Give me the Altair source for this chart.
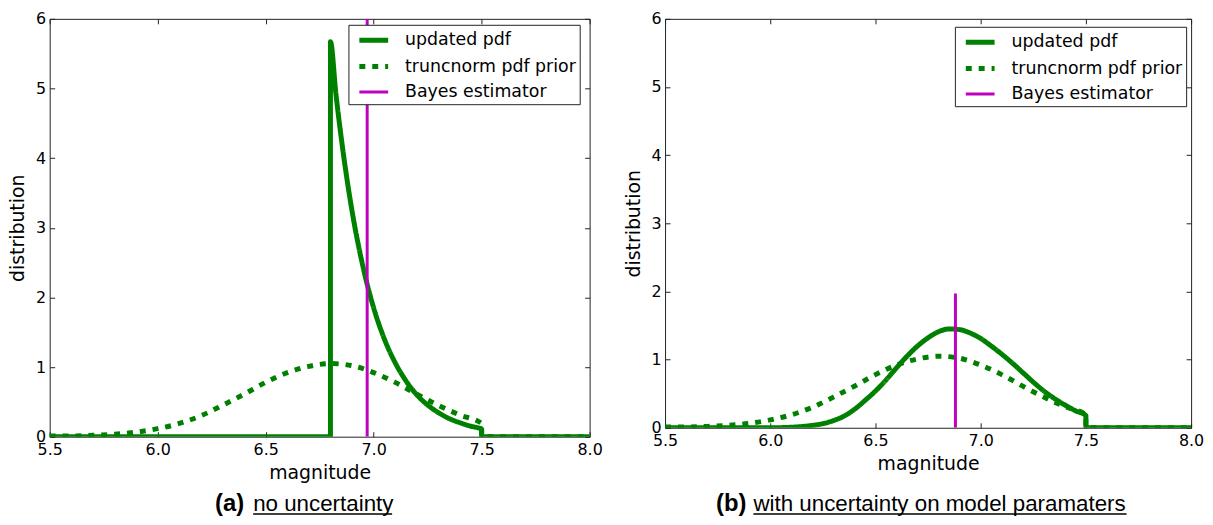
import altair as alt
import pandas as pd

SERIES = ["updated pdf", "truncnorm pdf prior", "Bayes estimator"]
COLORS = ["#008000", "#008000", "#bf00bf"]
DASHES = [[1, 0], [6, 7], [1, 0]]
WIDTHS = [5, 5, 3]

X_TICKS = [5.5, 6.0, 6.5, 7.0, 7.5, 8.0]
Y_TICKS = [0, 1, 2, 3, 4, 5, 6]

# truncated-normal prior (same in both panels)
PRIOR_X = [5.5, 5.6, 5.7, 5.8, 5.9, 6.0, 6.1, 6.2, 6.3, 6.4, 6.5, 6.6, 6.7,
           6.8, 6.9, 7.0, 7.1, 7.2, 7.3, 7.4, 7.5, 7.5, 8.0]
PRIOR_Y = [0.01, 0.01, 0.02, 0.035, 0.065, 0.115, 0.19, 0.30, 0.45, 0.61, 0.78,
           0.92, 1.01, 1.05, 1.02, 0.92, 0.78, 0.61, 0.45, 0.31, 0.19, 0.0, 0.0]

# (a) updated pdf, no uncertainty
A_SOLID_X = [5.5, 6.8, 6.8, 6.825, 6.85, 6.875, 6.9, 6.95, 7.0, 7.05, 7.1, 7.15,
             7.2, 7.25, 7.3, 7.35, 7.4, 7.45, 7.5, 7.5, 8.0]
A_SOLID_Y = [0.0, 0.0, 5.67, 4.93, 4.29, 3.73, 3.24, 2.45, 1.85, 1.40, 1.06, 0.80,
             0.60, 0.455, 0.345, 0.26, 0.20, 0.15, 0.11, 0.0, 0.0]
A_BAYES = 6.97
A_BAYES_TOP = 6.0

# (b) updated pdf, with uncertainty on model parameters
B_SOLID_X = [5.5, 6.0, 6.1, 6.15, 6.2, 6.25, 6.3, 6.35, 6.4, 6.45, 6.5, 6.55, 6.6,
             6.65, 6.7, 6.75, 6.8, 6.85, 6.9, 6.95, 7.0, 7.05, 7.1, 7.15, 7.2,
             7.25, 7.3, 7.35, 7.4, 7.45, 7.5, 7.5, 8.0]
B_SOLID_Y = [0.0, 0.0, 0.008, 0.018, 0.035, 0.06, 0.105, 0.17, 0.27, 0.40, 0.54,
             0.70, 0.88, 1.05, 1.20, 1.32, 1.41, 1.45, 1.44, 1.39, 1.31, 1.20,
             1.08, 0.95, 0.81, 0.67, 0.54, 0.43, 0.335, 0.25, 0.18, 0.0, 0.0]
B_BAYES = 6.88
B_BAYES_TOP = 1.97


def line_df(xs, ys, name):
    return pd.DataFrame({"x": xs, "y": ys, "series": name, "i": list(range(len(xs)))})


def panel(solid_x, solid_y, bayes_x, bayes_top, w, h, legend_x, legend_y,
          bold_txt, body_txt, bold_right, body_left, body_w, cap_y):
    xs = alt.Scale(domain=[5.5, 8.0], nice=False, zero=False)
    ys = alt.Scale(domain=[0, 6], nice=False)
    leg = alt.Legend(orient="none", legendX=legend_x, legendY=legend_y, title=None)
    common = dict(
        color=alt.Color("series:N", scale=alt.Scale(domain=SERIES, range=COLORS), legend=leg),
        strokeDash=alt.StrokeDash("series:N", scale=alt.Scale(domain=SERIES, range=DASHES), legend=leg),
        strokeWidth=alt.StrokeWidth("series:N", scale=alt.Scale(type="ordinal", domain=SERIES, range=WIDTHS), legend=leg),
        order=alt.Order("i:Q"),
    )
    solid = alt.Chart(line_df(solid_x, solid_y, SERIES[0])).mark_line(
        clip=True, interpolate="monotone", strokeJoin="round").encode(
        x=alt.X("x:Q", scale=xs, axis=alt.Axis(
            orient="bottom", values=X_TICKS, format=".1f", title="magnitude",
            tickSize=5, offset=-5, domain=False, labelPadding=5, titlePadding=6,
            labelFlush=False, labelOverlap=False, grid=False)),
        y=alt.Y("y:Q", scale=ys, axis=alt.Axis(
            orient="left", values=Y_TICKS, format="d", title="distribution",
            tickSize=5, offset=-5, domain=False, labelPadding=4, titlePadding=8,
            labelOverlap=False, grid=False)),
        **common)
    prior = alt.Chart(line_df(PRIOR_X, PRIOR_Y, SERIES[1])).mark_line(
        clip=True, interpolate="monotone", strokeCap="butt").encode(
        x=alt.X("x:Q", scale=xs, axis=None),
        y=alt.Y("y:Q", scale=ys, axis=None),
        **common)
    bayes = alt.Chart(line_df([bayes_x, bayes_x], [0, bayes_top], SERIES[2])).mark_line(
        clip=True).encode(
        x=alt.X("x:Q", scale=xs, axis=None),
        y=alt.Y("y:Q", scale=ys, axis=None),
        **common)
    frame = alt.Chart(line_df(PRIOR_X, PRIOR_Y, "frame")).mark_line(opacity=0).encode(
        x=alt.X("x:Q", scale=xs, axis=alt.Axis(
            orient="top", values=X_TICKS, labels=False, title=None, tickSize=5,
            offset=-5, domain=False, grid=False)),
        y=alt.Y("y:Q", scale=ys, axis=alt.Axis(
            orient="right", values=Y_TICKS, labels=False, title=None, tickSize=5,
            offset=-5, domain=False, grid=False)),
    )
    one = pd.DataFrame({"k": [0]})
    bold = alt.Chart(one).mark_text(
        text=bold_txt, align="right", baseline="alphabetic", font="Liberation Sans",
        fontSize=24, fontWeight="bold", color="black").encode(
        x=alt.value(bold_right), y=alt.value(cap_y))
    body = alt.Chart(one).mark_text(
        text=body_txt, align="left", baseline="alphabetic", font="Liberation Sans",
        fontSize=22.5, color="black").encode(
        x=alt.value(body_left), y=alt.value(cap_y))
    uline = alt.Chart(one).mark_rule(color="black", strokeWidth=1.5).encode(
        x=alt.value(body_left), x2=alt.value(body_left + body_w), y=alt.value(cap_y + 3))
    return alt.layer(solid, prior, bayes, frame, bold, body, uline).resolve_axis(
        x="independent", y="independent").properties(width=w, height=h)


left = panel(A_SOLID_X, A_SOLID_Y, A_BAYES, A_BAYES_TOP, 544, 421, 301, 6,
             "(a)", "no uncertainty", 196, 205, 140, 496)
right = panel(B_SOLID_X, B_SOLID_Y, B_BAYES, B_BAYES_TOP, 530, 412, 292, 8,
              "(b)", "with uncertainty on model paramaters", 82, 89, 376, 496)

chart = alt.hconcat(left, right, spacing=20).resolve_scale(
    color="independent", strokeDash="independent", strokeWidth="independent"
).properties(
    padding={"left": 0, "top": 0, "right": 0, "bottom": 0},
    background="white",
).configure_view(
    stroke="#222222", strokeWidth=1
).configure_axis(
    labelFont="DejaVu Sans", labelFontSize=16, labelColor="black",
    titleFont="DejaVu Sans", titleFontSize=19, titleFontWeight="normal", titleColor="black",
    tickColor="#222222", tickWidth=1,
).configure_legend(
    labelFont="DejaVu Sans", labelFontSize=17.5, labelColor="black", labelLimit=400,
    symbolType="M-1.45,0H1.45", symbolSize=400, labelOffset=19, padding=3,
    rowPadding=3.6, symbolOffset=10, strokeColor="#222222", fillColor="white",
    cornerRadius=0,
)

chart.save("out.html", embed_options={"renderer": "svg", "actions": False})
